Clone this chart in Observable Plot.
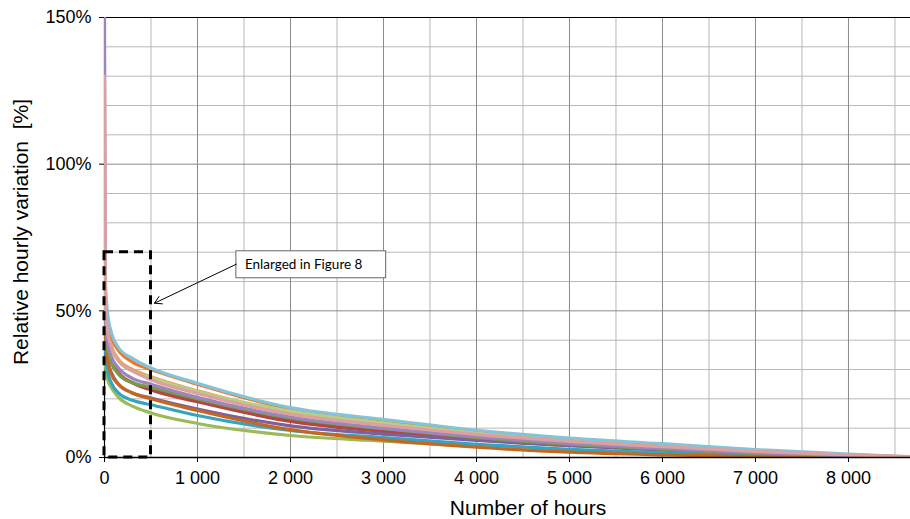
<!DOCTYPE html>
<html>
<head>
<meta charset="utf-8">
<script src="https://cdn.jsdelivr.net/npm/d3@7"></script>
<script src="https://cdn.jsdelivr.net/npm/@observablehq/plot@0.6"></script>
<style>
  html, body { margin: 0; padding: 0; background: #fff; }
  #chart { width: 910px; height: 519px; }
</style>
</head>
<body>
<div id="chart"></div>
<script>
// ---- data (values in %) ----
const hours = [0, 10, 30, 80, 150, 300, 500, 1000, 2000, 3000, 4000, 5000, 6000, 7000, 8000, 8760];

const seriesNames = ["blue", "red", "green", "purple", "aqua", "orange", "darkOrange", "brownOrange",
                     "lightGreen", "olive", "lavender", "lightAqua", "pink"];
const seriesColors = ["#4F81BD", "#B2473F", "#9BBB59", "#7E5FA0", "#36A3C0", "#F79646", "#E9782A", "#C5671E",
                      "#B5CF84", "#7E9A45", "#9D86BF", "#86C3D8", "#DDA09E"];

const blue        = [57, 46, 38, 32, 28.5, 25.5, 23.5, 19.5, 12.8, 9.3, 6.5, 4.4, 2.8, 1.4, 0.5, 0];
const red         = [60, 47, 39, 33, 29, 25.5, 23, 19, 12.3, 8.8, 6.1, 4.1, 2.6, 1.3, 0.5, 0];
const green       = [34, 31, 27, 23.5, 20.5, 17.5, 15.2, 11.6, 7.5, 5.6, 3.8, 2.2, 1.2, 0.5, 0.1, 0];
const purple      = [50, 41, 34, 28.5, 25, 22, 20.3, 16.5, 10.8, 8, 5.8, 4.0, 2.6, 1.3, 0.4, 0];
const aqua        = [45, 37, 30, 25, 22, 19.5, 18, 14.3, 9.2, 6.8, 4.5, 2.8, 1.6, 0.7, 0.2, 0];
const orange      = [64, 52, 44, 37.5, 33.5, 30, 27.5, 22.7, 15.3, 11.3, 8, 5.5, 3.6, 2.0, 0.8, 0];
const darkOrange  = [66, 55, 47, 40.5, 36.5, 32.5, 30, 25, 16.5, 12.3, 8.8, 6, 4, 2.2, 0.9, 0];
const brownOrange = [52, 42, 34, 28, 25, 22, 20, 16, 9.5, 6, 3.5, 1.8, 0.9, 0.3, 0.05, 0];
const lightGreen  = [61, 51, 43, 37, 33, 29.5, 27.2, 22.5, 15.8, 11.8, 8.3, 5.6, 3.6, 1.9, 0.8, 0];
const olive       = [56, 46, 38, 32, 28.5, 25.5, 24, 20, 13.5, 9.8, 6.8, 4.5, 2.8, 1.4, 0.5, 0];
const lavender    = [150, 48, 40, 34, 30.5, 27, 25, 20.5, 13.8, 10, 7.1, 4.8, 3.1, 1.6, 0.6, 0];
const lightAqua   = [70, 60, 50, 42, 37.5, 33.8, 30.5, 25.3, 17, 13, 9.3, 6.6, 4.7, 2.7, 1.2, 0.1];
const pink        = [130, 54, 44, 37, 33, 29.5, 26.5, 21.8, 14.8, 11, 7.9, 5.5, 3.7, 2.1, 0.9, 0.2];

const seriesValues = [blue, red, green, purple, aqua, orange, darkOrange, brownOrange,
                      lightGreen, olive, lavender, lightAqua, pink];

const xTicks = [0, 1000, 2000, 3000, 4000, 5000, 6000, 7000, 8000];
const xMinor = [500, 1500, 2500, 3500, 4500, 5500, 6500, 7500, 8500];
const yTicks = [0, 50, 100, 150];
const yMinor = [10, 20, 30, 40, 60, 70, 80, 90, 110, 120, 130, 140];

// annotation: dashed zoom box, note box and arrow (data units)
const zoomBox = [{x1: 0, x2: 500, y1: 0, y2: 70}];
const noteBox = [{x1: 1418, x2: 3029, y1: 61.1, y2: 70.3, label: "Enlarged in Figure 8", tx: 1510, ty: 65.8}];
const noteArrow = [{x1: 1418, y1: 65.9, x2: 537, y2: 52.6}];

// ---- build long table ----
const rows = [];
seriesNames.forEach((name, i) => {
  seriesValues[i].forEach((v, j) => rows.push({series: name, hour: hours[j], value: v}));
});

const fmtX = d3.formatLocale({thousands: "\u00a0", grouping: [3], decimal: ".", currency: ["", ""]}).format(",");

const chart = Plot.plot({
  width: 910,
  height: 519,
  marginLeft: 104,
  marginRight: 0,
  marginTop: 17,
  marginBottom: 62,
  style: {fontFamily: "'Liberation Sans', Arial, sans-serif", fontSize: "18px", color: "#000", background: "#fff"},
  x: {domain: [0, 8667]},
  y: {domain: [0, 150]},
  color: {domain: seriesNames, range: seriesColors},
  marks: [
    Plot.ruleX(xMinor, {stroke: "#b8b8b8", strokeWidth: 1}),
    Plot.ruleY(yMinor, {stroke: "#b8b8b8", strokeWidth: 1}),
    Plot.ruleX(xTicks.slice(1), {stroke: "#8a8a8a", strokeWidth: 1}),
    Plot.ruleY(yTicks.slice(1, 3), {stroke: "#8a8a8a", strokeWidth: 1}),
    Plot.ruleY([150], {stroke: "#000", strokeWidth: 1.2}),
    Plot.ruleX([0], {stroke: "#000", strokeWidth: 1.2}),
    Plot.line(rows, {x: "hour", y: "value", z: "series", stroke: "series", strokeWidth: 3.2,
                     curve: "monotone-x", clip: true}),
    Plot.ruleY([0], {stroke: "#000", strokeWidth: 1.5}),
    Plot.rect(zoomBox, {x1: "x1", x2: "x2", y1: "y1", y2: "y2", fill: "none", stroke: "#000",
                        strokeWidth: 3, strokeDasharray: "9,6"}),
    Plot.rect(noteBox, {x1: "x1", x2: "x2", y1: "y1", y2: "y2", fill: "#fff", stroke: "#666", strokeWidth: 1}),
    Plot.text(noteBox, {x: "tx", y: "ty", text: "label", textAnchor: "start", fontSize: 13.5,
                        fontFamily: "Lato, 'Open Sans', sans-serif", fill: "#000"}),
    Plot.arrow(noteArrow, {x1: "x1", y1: "y1", x2: "x2", y2: "y2", stroke: "#000", strokeWidth: 1,
                           headLength: 12, bend: 0}),
    Plot.axisX({ticks: xTicks, tickFormat: d => fmtX(d), tickSize: 5, tickPadding: 9, fontSize: 18, label: null}),
    Plot.axisY({ticks: yTicks, tickFormat: d => d + "%", tickSize: 5, tickPadding: 8, fontSize: 18, label: null})
  ]
});

const svg = d3.select(chart);
svg.append("text")
  .attr("x", 528).attr("y", 515)
  .attr("text-anchor", "middle")
  .attr("font-size", 21)
  .attr("fill", "#000")
  .text("Number of hours");
svg.append("text")
  .attr("transform", "translate(28,232) rotate(-90)")
  .attr("text-anchor", "middle")
  .attr("font-size", 21)
  .attr("fill", "#000")
  .attr("xml:space", "preserve")
  .style("white-space", "pre")
  .text("Relative hourly variation  [%]");

document.getElementById("chart").appendChild(chart);
</script>
</body>
</html>
